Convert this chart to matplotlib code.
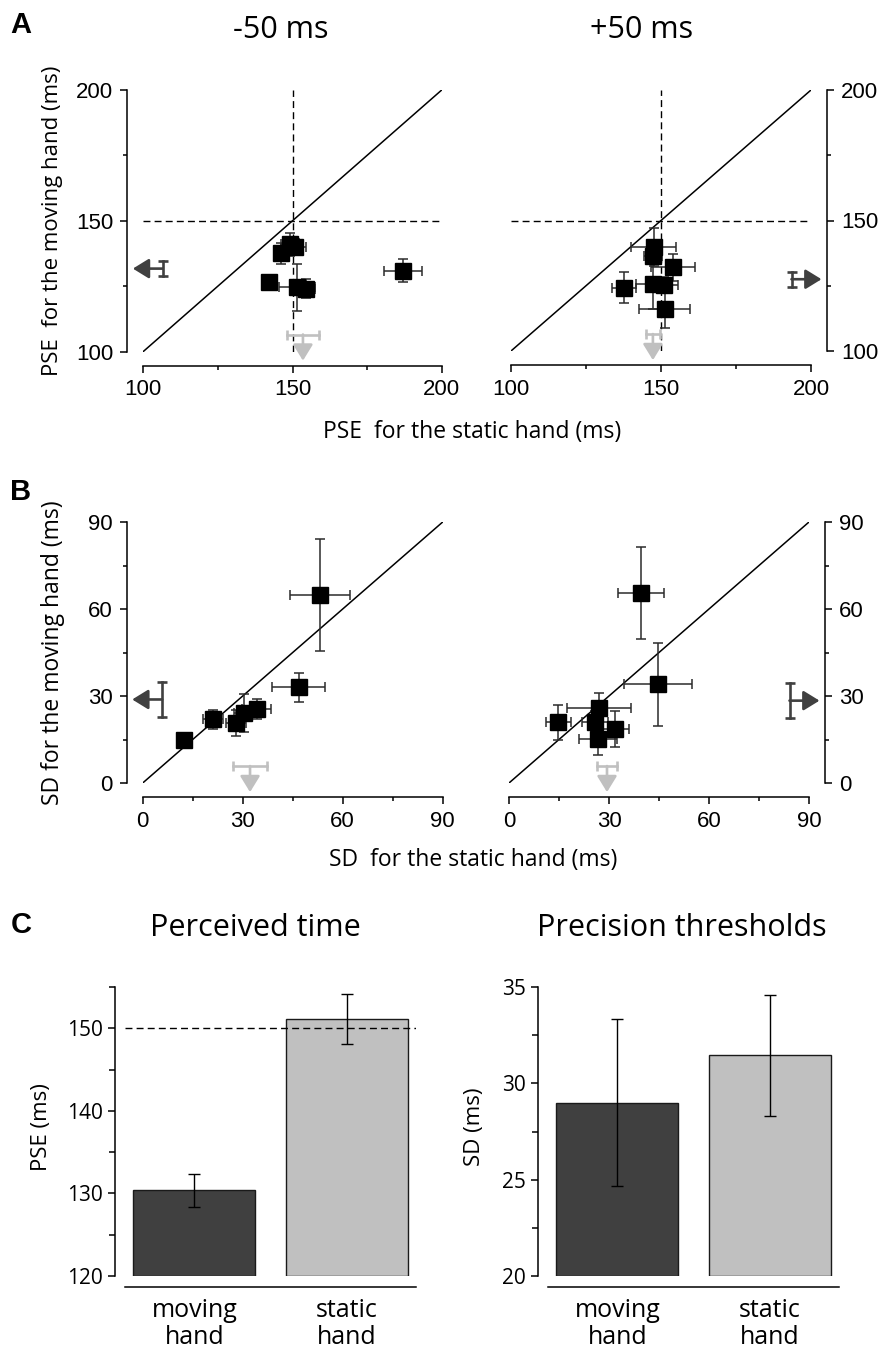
import matplotlib.pyplot as plt
import numpy as np
from matplotlib.ticker import MultipleLocator

W, H = 881, 1352
plt.rcParams['font.family'] = ['Liberation Sans', 'DejaVu Sans']
HUMAN = ['Open Sans', 'DejaVu Sans']
DARK = '#404040'
LIGHT = '#c0c0c0'

# ---- panel A: PSE (ms); x = static hand, y = moving hand ----
pse_m50_x = [149.0, 151.0, 146.0, 142.0, 151.5, 154.5, 187.0]
pse_m50_xerr = [3.0, 3.5, 2.0, 1.0, 6.0, 3.0, 6.5]
pse_m50_y = [141.0, 140.0, 137.5, 126.5, 124.5, 124.0, 130.8]
pse_m50_yerr = [4.5, 3.0, 4.0, 1.0, 9.0, 3.6, 4.4]

pse_p50_x = [147.5, 147.3, 154.0, 137.7, 147.3, 151.0, 151.3]
pse_p50_xerr = [7.5, 3.0, 7.3, 4.0, 5.7, 4.7, 8.5]
pse_p50_y = [139.7, 136.5, 132.0, 124.2, 125.8, 125.4, 116.2]
pse_p50_yerr = [7.3, 3.0, 5.0, 6.0, 9.6, 3.0, 7.3]

# group means (mean, error): moving hand -> side arrow, static hand -> bottom arrow
pse_m50_moving = (131.7, 2.9)
pse_m50_static = (153.5, 5.3)
pse_p50_moving = (127.5, 2.9)
pse_p50_static = (147.3, 2.2)

# ---- panel B: SD (ms) ----
sd_m50_x = [53.1, 46.8, 34.2, 30.5, 27.9, 21.0, 12.3]
sd_m50_xerr = [9.0, 8.0, 4.3, 3.0, 3.0, 3.0, 1.0]
sd_m50_y = [64.8, 33.1, 25.5, 24.1, 20.7, 22.0, 14.8]
sd_m50_yerr = [19.3, 5.0, 3.3, 6.5, 4.6, 3.3, 1.0]

sd_p50_x = [39.6, 44.7, 27.0, 25.8, 14.7, 31.8, 26.7]
sd_p50_xerr = [6.9, 10.3, 9.6, 4.0, 3.75, 4.2, 5.7]
sd_p50_y = [65.5, 34.1, 25.9, 21.0, 21.0, 18.6, 15.2]
sd_p50_yerr = [16.0, 14.3, 5.0, 4.0, 6.0, 6.3, 5.5]

sd_m50_moving = (28.8, 6.0)
sd_m50_static = (32.2, 5.2)
sd_p50_moving = (28.4, 6.0)
sd_p50_static = (29.4, 3.0)

# ---- panel C: bars ----
groups = ['moving\nhand', 'static\nhand']
pse_mean = [130.4, 151.1]
pse_err = [2.0, 3.0]
sd_mean = [29.0, 31.45]
sd_err = [4.35, 3.15]


def px_axes(fig, x0, y0, x1, y1):
    return fig.add_axes([x0 / W, 1 - y1 / H, (x1 - x0) / W, (y1 - y0) / H])


def pt(px):
    return px * 72 / 100


def mean_arrows(ax, moving, static, side):
    arrow = dict(arrowstyle='-|>,head_length=0.65,head_width=0.4', mutation_scale=15,
                 lw=1.9, shrinkA=0, shrinkB=0)
    bar = 0.065 if side == 'left' else 0.935
    tip = -0.035 if side == 'left' else 1.035
    tr = ax.get_yaxis_transform()
    m, e = moving
    ax.plot([bar, bar], [m - e, m + e], color=DARK, lw=1.9, transform=tr, clip_on=False)
    ax.plot([bar, bar], [m - e, m + e], ls='none', marker='_', ms=7, mew=1.9,
            color=DARK, transform=tr, clip_on=False)
    ax.annotate('', xy=(tip, m), xytext=(bar, m), xycoords=tr, textcoords=tr,
                arrowprops=dict(color=DARK, **arrow), annotation_clip=False)
    tr = ax.get_xaxis_transform()
    s, e = static
    ax.plot([s - e, s + e], [0.065, 0.065], color=LIGHT, lw=1.9, transform=tr, clip_on=False)
    ax.plot([s - e, s + e], [0.065, 0.065], ls='none', marker='|', ms=7, mew=1.9,
            color=LIGHT, transform=tr, clip_on=False)
    ax.annotate('', xy=(s, -0.035), xytext=(s, 0.065), xycoords=tr, textcoords=tr,
                arrowprops=dict(color=LIGHT, **arrow), annotation_clip=False)


def scatter_panel(ax, x, xerr, y, yerr, moving, static, lim, major, side, guide=None):
    lo, hi = lim
    ax.set_xlim(lo, hi)
    ax.set_ylim(lo, hi)
    ax.plot([lo, hi], [lo, hi], color='black', lw=1.1, zorder=1)
    if guide is not None:
        ax.plot([guide, guide], [lo, hi], color='black', lw=1, dashes=(5, 3), zorder=1)
        ax.plot([lo, hi], [guide, guide], color='black', lw=1, dashes=(5, 3), zorder=1)
    ax.errorbar(x, y, xerr=xerr, yerr=yerr, fmt='s', ms=12, mfc='black', mec='black',
                ecolor='#2b2b2b', elinewidth=1.1, capsize=3.5, capthick=1.1, zorder=3)
    mean_arrows(ax, moving, static, side)

    ax.spines['top'].set_visible(False)
    other = 'right' if side == 'left' else 'left'
    ax.spines[other].set_visible(False)
    ax.spines[side].set_position(('outward', pt(16)))
    ax.spines['bottom'].set_position(('outward', pt(14)))
    for sp in ax.spines.values():
        sp.set_linewidth(1.1)
    if side == 'right':
        ax.yaxis.set_ticks_position('right')
    else:
        ax.yaxis.set_ticks_position('left')
    ax.xaxis.set_ticks_position('bottom')
    for axis in (ax.xaxis, ax.yaxis):
        axis.set_major_locator(MultipleLocator(major))
        axis.set_minor_locator(MultipleLocator(major / 2))
    ax.tick_params(which='major', length=5, width=1.1, pad=5, labelsize=16)
    ax.tick_params(which='minor', length=3, width=1.1)


def bar_panel(ax, values, errors, ylim, major, ylabel, ref=None):
    xs = np.arange(len(values))
    heights = [v - ylim[0] for v in values]
    ax.bar(xs, heights, bottom=ylim[0], width=0.8, color=[DARK, LIGHT],
           edgecolor='#1a1a1a', lw=1, zorder=2)
    ax.errorbar(xs, values, yerr=errors, fmt='none', ecolor='black', elinewidth=1,
                capsize=4, capthick=1, zorder=3)
    if ref is not None:
        ax.axhline(ref, color='black', lw=1, dashes=(5, 3), zorder=4)
    ax.set_xlim(-0.455, 1.455)
    ax.set_ylim(*ylim)
    ax.set_xticks(xs, groups)
    ax.yaxis.set_major_locator(MultipleLocator(major))
    ax.yaxis.set_minor_locator(MultipleLocator(major / 2))
    ax.spines[['top', 'right']].set_visible(False)
    ax.spines['left'].set_position(('outward', pt(10)))
    ax.spines['bottom'].set_position(('outward', pt(11)))
    for sp in ax.spines.values():
        sp.set_linewidth(1.1)
    ax.tick_params(axis='x', length=0, pad=8)
    ax.tick_params(axis='y', which='major', length=5, width=1.1, pad=4)
    ax.tick_params(axis='y', which='minor', length=4, width=1.1)
    for lbl in ax.get_xticklabels():
        lbl.set_fontfamily(HUMAN)
        lbl.set_fontsize(18)
        lbl.set_linespacing(1.1)
    for lbl in ax.get_yticklabels():
        lbl.set_fontfamily(HUMAN)
        lbl.set_fontsize(15)
    ax.set_ylabel(ylabel, family=HUMAN, fontsize=16)


fig = plt.figure(figsize=(W / 100, H / 100), dpi=100)

# panel A
ax = px_axes(fig, 143.3, 90, 441.7, 351.5)
scatter_panel(ax, pse_m50_x, pse_m50_xerr, pse_m50_y, pse_m50_yerr,
              pse_m50_moving, pse_m50_static, (100, 200), 50, 'left', guide=150)
ax.set_ylabel('PSE  for the moving hand (ms)', family=HUMAN, fontsize=16)
ax.yaxis.set_label_coords(-0.27, 0.5)
ax = px_axes(fig, 511, 90, 811, 351)
scatter_panel(ax, pse_p50_x, pse_p50_xerr, pse_p50_y, pse_p50_yerr,
              pse_p50_moving, pse_p50_static, (100, 200), 50, 'right', guide=150)

# panel B
ax = px_axes(fig, 142.7, 522, 442.7, 783)
scatter_panel(ax, sd_m50_x, sd_m50_xerr, sd_m50_y, sd_m50_yerr,
              sd_m50_moving, sd_m50_static, (0, 90), 30, 'left')
ax.set_ylabel('SD for the moving hand (ms)', family=HUMAN, fontsize=16.5)
ax.yaxis.set_label_coords(-0.258, 0.5)
ax = px_axes(fig, 509, 522, 809, 783)
scatter_panel(ax, sd_p50_x, sd_p50_xerr, sd_p50_y, sd_p50_yerr,
              sd_p50_moving, sd_p50_static, (0, 90), 30, 'right')

# panel C
ax = px_axes(fig, 125, 987, 416, 1276)
bar_panel(ax, pse_mean, pse_err, (120, 155), 10, 'PSE (ms)', ref=150)
ax.yaxis.set_label_coords(-0.25, 0.515)
ax = px_axes(fig, 548, 987, 839, 1276)
bar_panel(ax, sd_mean, sd_err, (20, 35), 5, 'SD (ms)')
ax.yaxis.set_label_coords(-0.215, 0.515)

# shared texts
fig.text(281 / W, 1 - 30 / H, '-50 ms', ha='center', va='center', family=HUMAN, fontsize=22)
fig.text(642 / W, 1 - 30 / H, '+50 ms', ha='center', va='center', family=HUMAN, fontsize=22)
fig.text(472 / W, 1 - 432 / H, 'PSE  for the static hand (ms)', ha='center', va='center',
         family=HUMAN, fontsize=16.5)
fig.text(473 / W, 1 - 860 / H, 'SD  for the static hand (ms)', ha='center', va='center',
         family=HUMAN, fontsize=16.5)
fig.text(255 / W, 1 - 928 / H, 'Perceived time', ha='center', va='center', family=HUMAN, fontsize=22)
fig.text(682 / W, 1 - 928 / H, 'Precision thresholds', ha='center', va='center',
         family=HUMAN, fontsize=22)
for letter, y in [('A', 25), ('B', 492), ('C', 925)]:
    fig.text(21 / W, 1 - y / H, letter, ha='center', va='center', fontsize=21, fontweight='bold')

fig.savefig('out.png', dpi=100)
